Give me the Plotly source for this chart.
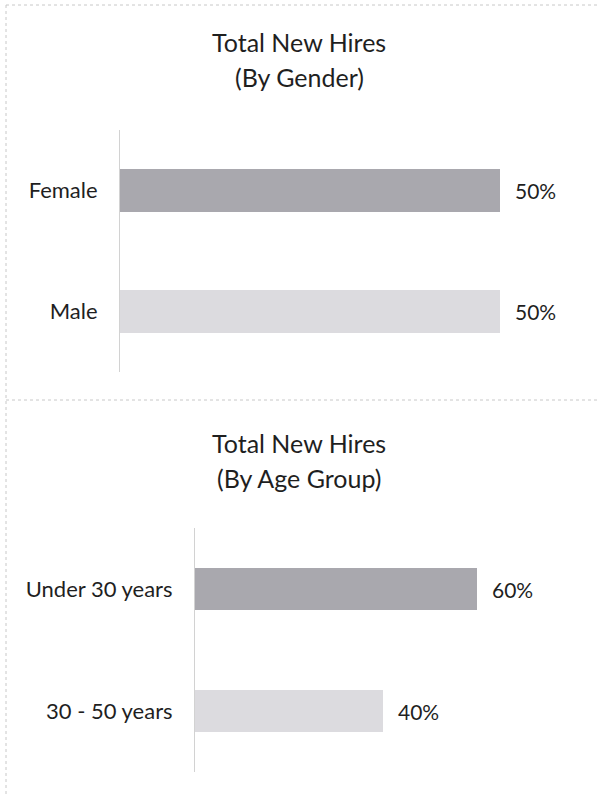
import plotly.graph_objects as go

W, H = 598, 797

# Data
gender_cats = ["Female", "Male"]
gender_vals = [0.50, 0.50]
age_cats = ["Under 30 years", "30 - 50 years"]
age_vals = [0.60, 0.40]

title_top = ["Total New Hires", "(By Gender)"]
title_bottom = ["Total New Hires", "(By Age Group)"]

dark = "#a9a8ae"
light = "#dcdbdf"
txt = "#1f1f1f"
FONT = "Lato"

def px_x(p):
    return p / W

def px_y(p):
    return 1 - p / H

fig = go.Figure()

fig.add_trace(go.Bar(
    x=gender_vals, y=gender_cats, orientation="h",
    marker=dict(color=[dark, light], line=dict(width=0)),
    width=0.355, xaxis="x", yaxis="y", hoverinfo="skip",
))
fig.add_trace(go.Bar(
    x=age_vals, y=age_cats, orientation="h",
    marker=dict(color=[dark, light], line=dict(width=0)),
    width=0.345, xaxis="x2", yaxis="y2", hoverinfo="skip",
))

axis_common = dict(showgrid=False, zeroline=False, showticklabels=False,
                   fixedrange=True)
yaxis_common = dict(showgrid=False, zeroline=False, showline=True,
                    linecolor="#d2d2d2", linewidth=1, ticks="",
                    autorange="reversed", ticklabelstandoff=17,
                    tickfont=dict(family=FONT, size=22, color=txt))

fig.update_layout(
    width=W, height=H,
    margin=dict(l=0, r=0, t=0, b=0),
    paper_bgcolor="white", plot_bgcolor="white",
    showlegend=False,
    xaxis=dict(domain=[px_x(120), px_x(120 + 760 * 0.6)], range=[0, 0.6], anchor="y", **axis_common),
    yaxis=dict(domain=[px_y(372), px_y(130)], anchor="x", **yaxis_common),
    xaxis2=dict(domain=[px_x(195), px_x(195 + 470 * 0.8)], range=[0, 0.8], anchor="y2", **axis_common),
    yaxis2=dict(domain=[px_y(772), px_y(528)], anchor="x2", **yaxis_common),
)

# data labels
for cats, vals, xr, yr in [(gender_cats, gender_vals, "x", "y"), (age_cats, age_vals, "x2", "y2")]:
    for c, v in zip(cats, vals):
        fig.add_annotation(x=v, y=c, xref=xr, yref=yr, text=f"{v:.0%}",
                           showarrow=False, xanchor="left", xshift=13,
                           font=dict(family=FONT, size=21, color=txt))

# titles
for lines, ys in [(title_top, (42, 77)), (title_bottom, (443, 478))]:
    for t, yy in zip(lines, ys):
        fig.add_annotation(x=0.5, y=px_y(yy), xref="paper", yref="paper", text=t,
                           showarrow=False, xanchor="center", yanchor="middle",
                           font=dict(family=FONT, size=25, color=txt))

# panel borders
bcol = "#c8c8c8"
fig.add_shape(type="line", xref="paper", yref="paper", x0=px_x(6), x1=1, y0=px_y(5), y1=px_y(5),
              line=dict(color=bcol, width=1, dash="dot"))
fig.add_shape(type="line", xref="paper", yref="paper", x0=px_x(6), x1=px_x(6), y0=px_y(5), y1=0,
              line=dict(color=bcol, width=1, dash="dot"))
fig.add_shape(type="line", xref="paper", yref="paper", x0=px_x(6), x1=1, y0=px_y(400), y1=px_y(400),
              line=dict(color=bcol, width=1, dash="dot"))

fig.write_html("out.html")
